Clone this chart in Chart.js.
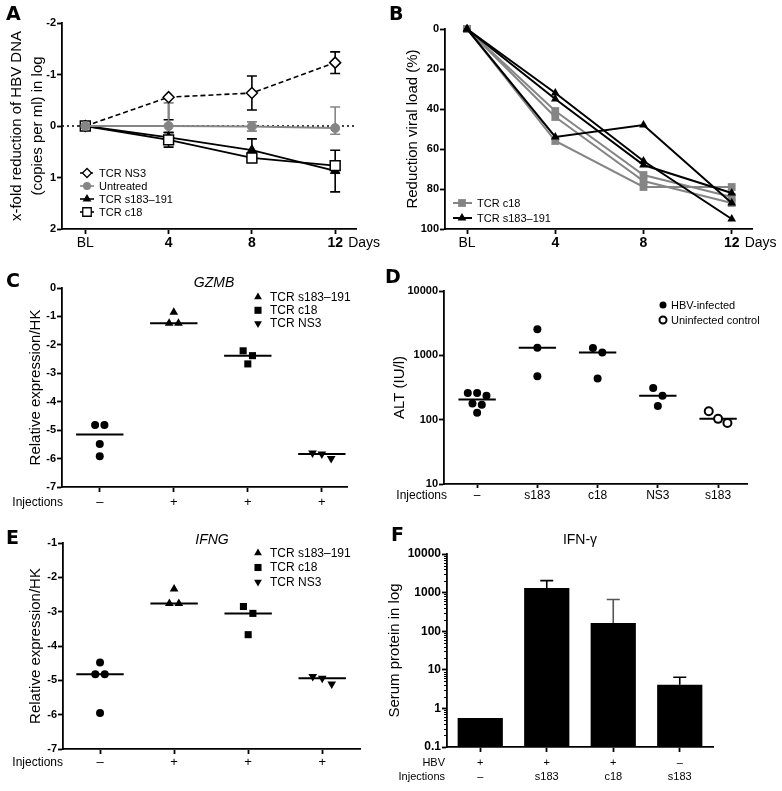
<!DOCTYPE html>
<html><head><meta charset="utf-8">
<script src="https://cdn.jsdelivr.net/npm/chart.js@4.4.1/dist/chart.umd.min.js"></script>
<style>
html,body{margin:0;padding:0;background:#fff;}
#wrap{position:relative;width:782px;height:791px;overflow:hidden;background:#fff;}
canvas{position:absolute;}
</style></head><body>
<div id="wrap">
<canvas id="cA" width="391" height="262" style="left:0;top:0"></canvas>
<canvas id="cC" width="391" height="262" style="left:0;top:262px"></canvas>
<canvas id="cE" width="391" height="267" style="left:0;top:524px"></canvas>
<canvas id="cB" width="401" height="262" style="left:381px;top:0"></canvas>
<canvas id="cD" width="401" height="262" style="left:381px;top:262px"></canvas>
<canvas id="cF" width="401" height="267" style="left:381px;top:524px"></canvas>
</div>
<script>
// ================= DATA =================
// Panel A – x-fold reduction of HBV DNA (log), reversed axis
const dayLabels = ['BL', '4', '8', '12'];
const aNS3 = [0, -0.56, -0.64, -1.23];
const aUntreated = [0, 0.0, 0.01, 0.04];
const aS183 = [0, 0.22, 0.47, 0.87];
const aC18 = [0, 0.27, 0.62, 0.77];
const aNS3ErrMinus = [0, 0, 0.33, 0.21];
const aNS3ErrPlus = [0, 0.44, 0.33, 0.21];
const aUntrErrMinus = [0, 0.45, 0.09, 0.41];
const aUntrErrPlus = [0, 0.30, 0.09, 0.12];
const aS183ErrMinus = [0, 0.10, 0.22, 0.40];
const aS183ErrPlus = [0, 0.10, 0.22, 0.41];
const aC18ErrMinus = [0, 0.14, 0.06, 0.05];
const aC18ErrPlus = [0, 0.14, 0.06, 0.05];

// Panel B – reduction viral load (%), individual mice
const bC18Mouse1 = [0, 41, 73, 84];
const bC18Mouse2 = [0, 44, 76, 87];
const bC18Mouse3 = [0, 56, 79, 79];
const bS183Mouse1 = [0, 32, 66, 95];
const bS183Mouse2 = [0, 35, 68, 82];
const bS183Mouse3 = [0, 54, 48, 87];

// Panel C – GZMB relative expression
const injLabels = ['–', '+', '+', '+'];
const gzmbNone = [-4.82, -4.82, -5.49, -5.92];
const gzmbS183 = [-0.85, -1.24, -1.24];
const gzmbC18 = [-2.21, -2.38, -2.67];
const gzmbNS3 = [-5.80, -5.84, -6.00];

// Panel D – ALT (IU/l)
const altInjLabels = ['–', 's183', 'c18', 'NS3', 's183'];
const altTicks = [10, 100, 1000, 10000];
const altNone = [260, 235, 260, 178, 170, 128];
const altS183 = [2550, 1310, 471];
const altC18 = [1295, 1110, 437];
const altNS3 = [310, 236, 163];
const altUninfS183 = [135, 103, 89];

// Panel E – IFNG relative expression
const ifngNone = [-4.48, -4.82, -4.82, -5.95];
const ifngS183 = [-2.34, -2.76, -2.76];
const ifngC18 = [-2.85, -3.05, -3.67];
const ifngNS3 = [-4.89, -4.94, -5.11];

// Panel F – IFN-γ serum protein
const ifnHBV = ['+', '+', '+', '–'];
const ifnInj = ['–', 's183', 'c18', 's183'];
const ifnTicks = [0.1, 1, 10, 100, 1000, 10000];
const ifnMean = [0.56, 1310, 163, 4.1];
const ifnErr = [0, 730, 497, 2.3];

// ================= HELPERS =================
const FONT = "'Liberation Sans', Arial, Helvetica, sans-serif";
const GRAY = '#858585';
Chart.defaults.font.family = FONT;
Chart.defaults.color = '#000';
Chart.defaults.animation = false;
Chart.defaults.plugins.legend.display = false;
Chart.defaults.plugins.tooltip.enabled = false;

const series = arr => arr.map((v, i) => ({x: i, y: v}));
function median(a) { const s = [...a].sort((p, q) => p - q); const n = s.length; return n % 2 ? s[(n - 1) / 2] : (s[n / 2 - 1] + s[n / 2]) / 2; }
function swarmOffsets(vals, thr, step) {
  const idx = vals.map((_, i) => i).sort((a, b) => vals[b] - vals[a]);
  const off = vals.map(() => 0);
  let cl = [];
  const flush = () => cl.forEach((j, n) => { off[j] = (n - (cl.length - 1) / 2) * step; });
  idx.forEach((j, n) => {
    if (n > 0 && Math.abs(vals[j] - vals[idx[n - 1]]) >= thr) { flush(); cl = []; }
    cl.push(j);
  });
  flush();
  return off;
}
function groupPoints(vals, g, thr, step, isLog) {
  const key = isLog ? vals.map(v => Math.log10(v)) : vals;
  const off = swarmOffsets(key, thr, step);
  return vals.map((v, k) => ({x: g + off[k], y: v}));
}
function medianSeg(vals, g, half) { const m = median(vals); return [{x: g - half, y: m}, {x: g + half, y: m}]; }

function marker(ctx, style, x, y, r, fill, stroke, lw) {
  ctx.save();
  ctx.beginPath();
  if (style === 'circle') ctx.arc(x, y, r, 0, Math.PI * 2);
  else if (style === 'rect') { const s = r * Math.SQRT1_2; ctx.rect(x - s, y - s, 2 * s, 2 * s); }
  else if (style === 'rectRot') { ctx.moveTo(x - r, y); ctx.lineTo(x, y - r); ctx.lineTo(x + r, y); ctx.lineTo(x, y + r); ctx.closePath(); }
  else if (style === 'triangle') { ctx.moveTo(x, y - r); ctx.lineTo(x + r * 0.866, y + r * 0.5); ctx.lineTo(x - r * 0.866, y + r * 0.5); ctx.closePath(); }
  else if (style === 'triangleDown') { ctx.moveTo(x, y + r); ctx.lineTo(x + r * 0.866, y - r * 0.5); ctx.lineTo(x - r * 0.866, y - r * 0.5); ctx.closePath(); }
  if (fill) { ctx.fillStyle = fill; ctx.fill(); }
  if (lw) { ctx.lineWidth = lw; ctx.strokeStyle = stroke; ctx.stroke(); }
  ctx.restore();
}
const fontStr = (t) => `${t.style || 'normal'} ${t.weight || 'normal'} ${t.size || 12}px ${t.family || FONT}`;

function drawErr(chart, o, when) {
  if (!o || !o.sets) return;
  const ctx = chart.ctx, ys = chart.scales.y;
  o.sets.forEach(s => {
    if ((s.when || 'before') !== when) return;
    const meta = chart.getDatasetMeta(s.dataset);
    const data = chart.data.datasets[s.dataset].data;
    ctx.save();
    ctx.lineWidth = s.width || 1.5;
    meta.data.forEach((el, i) => {
      const v = typeof data[i] === 'object' ? data[i].y : data[i];
      const lo = s.lo ? s.lo[i] : 0, hi = s.hi ? s.hi[i] : 0;
      ctx.strokeStyle = Array.isArray(s.color) ? s.color[i] : s.color;
      const x = el.x, half = s.cap / 2;
      ctx.beginPath();
      [[lo, -1], [hi, 1]].forEach(([e, sg]) => {
        if (!e) return;
        const y = ys.getPixelForValue(v + sg * e);
        ctx.moveTo(x, el.y); ctx.lineTo(x, y);
        ctx.moveTo(x - half, y); ctx.lineTo(x + half, y);
      });
      ctx.stroke();
    });
    ctx.restore();
  });
}
const errorBarPlugin = {
  id: 'errorBars',
  beforeDatasetsDraw(chart, a, o) { drawErr(chart, o, 'before'); },
  afterDatasetsDraw(chart, a, o) { drawErr(chart, o, 'after'); }
};

const decorPlugin = {
  id: 'decor',
  beforeDatasetsDraw(chart, a, o) {
    const ctx = chart.ctx, ca = chart.chartArea;
    (o.hlines || []).forEach(h => {
      const y = chart.scales.y.getPixelForValue(h.value);
      ctx.save(); ctx.setLineDash(h.dash || []); ctx.strokeStyle = h.color; ctx.lineWidth = h.width;
      ctx.beginPath(); ctx.moveTo(ca.left, y); ctx.lineTo(ca.right, y); ctx.stroke(); ctx.restore();
    });
  },
  afterDraw(chart, a, o) {
    const ctx = chart.ctx, ca = chart.chartArea;
    if (o.minorTicks) {
      const ys = chart.scales.y, m = o.minorTicks;
      ctx.save(); ctx.strokeStyle = '#000'; ctx.lineWidth = 1;
      for (let e = m.fromExp; e < m.toExp; e++) {
        for (let k = 2; k <= 9; k++) {
          const y = Math.round(ys.getPixelForValue(k * Math.pow(10, e))) + 0.5;
          ctx.beginPath(); ctx.moveTo(ca.left - m.len, y); ctx.lineTo(ca.left, y); ctx.stroke();
        }
      }
      ctx.restore();
    }
    (o.texts || []).forEach(t => {
      ctx.save();
      ctx.font = fontStr(t);
      ctx.fillStyle = t.color || '#000';
      ctx.textAlign = t.align || 'left';
      ctx.textBaseline = 'middle';
      const x = typeof t.x === 'function' ? t.x(chart) : t.x;
      ctx.fillText(t.text, x, t.y);
      ctx.restore();
    });
    if (o.legend) {
      const L = o.legend;
      L.items.forEach((it, i) => {
        const y = L.y + i * L.dy;
        if (it.line) {
          ctx.save(); ctx.strokeStyle = it.line.color; ctx.lineWidth = it.line.width; ctx.setLineDash(it.line.dash || []);
          ctx.beginPath(); ctx.moveTo(L.lineX1, y); ctx.lineTo(L.lineX2, y); ctx.stroke(); ctx.restore();
        }
        marker(ctx, it.style, L.x, y, it.r, it.fill, it.stroke, it.lw);
        ctx.save(); ctx.font = fontStr({size: L.size}); ctx.fillStyle = '#000'; ctx.textBaseline = 'middle';
        ctx.fillText(it.label, L.textX, y + 0.5); ctx.restore();
      });
    }
  }
};
Chart.register(errorBarPlugin, decorPlugin);

const AXC = '#000';
function gridOpts(len) { return {display: true, drawOnChartArea: false, drawTicks: true, tickLength: len, tickColor: AXC, tickWidth: 1.8, offset: false}; }
const borderOpts = {display: true, color: AXC, width: 1.8};
function catX(labels, min, max, h, font, pad, tl) {
  return {
    type: 'linear', min, max,
    afterBuildTicks: s => { s.ticks = labels.map((_, i) => ({value: i})); },
    afterFit: s => { s.height = h; },
    ticks: {callback: v => labels[v], font, padding: pad, autoSkip: false, maxRotation: 0, minRotation: 0},
    grid: gridOpts(tl), border: borderOpts
  };
}
function yTitle(text, lh) { return {display: true, text, font: {size: 15, lineHeight: lh || 1.2}, padding: 0, color: '#000'}; }
const letterFont = {size: 19, weight: 'bold', family: "'DejaVu Sans', 'Liberation Sans', Arial, sans-serif"};
const daysText = {text: 'Days', size: 14, x: c => c.scales.x.getPixelForValue(3) + 13};

// ================= PANEL A =================
new Chart(document.getElementById('cA'), {
  type: 'scatter',
  data: {datasets: [
    {label: 'TCR NS3', data: series(aNS3), showLine: true, borderColor: '#000', borderWidth: 1.6, borderDash: [5, 3],
     pointStyle: 'rectRot', pointRadius: 5.5, pointBackgroundColor: '#fff', pointBorderColor: '#000', pointBorderWidth: 1.5, order: 3, clip: false},
    {label: 'Untreated', data: series(aUntreated), showLine: true, borderColor: GRAY, borderWidth: 2,
     pointStyle: 'circle', pointRadius: 4.5, pointBackgroundColor: GRAY, pointBorderColor: GRAY, pointBorderWidth: 1, order: 0, clip: false},
    {label: 'TCR s183–191', data: series(aS183), showLine: true, borderColor: '#000', borderWidth: 1.8,
     pointStyle: 'triangle', pointRadius: 5.5, pointBackgroundColor: '#000', pointBorderColor: '#000', pointBorderWidth: 1, order: 2, clip: false},
    {label: 'TCR c18', data: series(aC18), showLine: true, borderColor: '#000', borderWidth: 1.8,
     pointStyle: 'rect', pointRadius: 7, pointBackgroundColor: '#fff', pointBorderColor: '#000', pointBorderWidth: 1.5, order: 1, clip: false}
  ]},
  options: {
    responsive: false,
    layout: {padding: {left: 6, top: 23, right: 35, bottom: 0}},
    scales: {
      x: catX(dayLabels, -0.28, 3.25, 33, ctx => ({size: 14, weight: ctx.index === 0 ? 'normal' : 'bold'}), 1, 5),
      y: {type: 'linear', reverse: true, min: -2, max: 2, afterFit: s => { s.width = 56; },
          ticks: {stepSize: 1, font: {size: 11, weight: 'bold'}, padding: 1},
          title: yTitle(['x-fold reduction of HBV DNA', '(copies per ml) in log'], 1.4),
          grid: gridOpts(5), border: borderOpts}
    },
    plugins: {
      errorBars: {sets: [
        {dataset: 0, lo: aNS3ErrMinus, hi: aNS3ErrPlus, color: '#000', cap: 10, width: 1.6},
        {dataset: 1, lo: aUntrErrMinus, hi: aUntrErrPlus, color: GRAY, cap: 10, width: 1.6},
        {dataset: 2, lo: aS183ErrMinus, hi: aS183ErrPlus, color: '#000', cap: 10, width: 1.6},
        {dataset: 3, lo: aC18ErrMinus, hi: aC18ErrPlus, color: '#000', cap: 10, width: 1.6}
      ]},
      decor: {
        hlines: [{value: 0, dash: [2, 3], color: '#000', width: 1.4}],
        texts: [Object.assign({text: 'A', x: 6, y: 15}, letterFont), Object.assign({y: 243.5}, daysText)],
        legend: {x: 87, y: 173, dy: 13, textX: 99, lineX1: 80, lineX2: 94, size: 11, items: [
          {label: 'TCR NS3', style: 'rectRot', r: 4.5, fill: '#fff', stroke: '#000', lw: 1.3, line: {color: '#000', width: 1.4, dash: [3, 2]}},
          {label: 'Untreated', style: 'circle', r: 4, fill: GRAY, stroke: GRAY, lw: 0, line: {color: GRAY, width: 1.6}},
          {label: 'TCR s183–191', style: 'triangle', r: 5, fill: '#000', stroke: '#000', lw: 0, line: {color: '#000', width: 1.6}},
          {label: 'TCR c18', style: 'rect', r: 6, fill: '#fff', stroke: '#000', lw: 1.3, line: {color: '#000', width: 1.6}}
        ]}
      }
    }
  }
});

// ================= PANEL B =================
function bSet(label, arr, isC18) {
  return {label, data: series(arr), showLine: true, borderColor: isC18 ? GRAY : '#000', borderWidth: 2,
    pointStyle: isC18 ? 'rect' : 'triangle', pointRadius: isC18 ? 5.5 : 5,
    pointBackgroundColor: isC18 ? GRAY : '#000', pointBorderColor: isC18 ? GRAY : '#000', pointBorderWidth: 0,
    order: isC18 ? 2 : 1, clip: false};
}
new Chart(document.getElementById('cB'), {
  type: 'scatter',
  data: {datasets: [
    bSet('TCR c18', bC18Mouse1, true), bSet('TCR c18', bC18Mouse2, true), bSet('TCR c18', bC18Mouse3, true),
    bSet('TCR s183–191', bS183Mouse1, false), bSet('TCR s183–191', bS183Mouse2, false), bSet('TCR s183–191', bS183Mouse3, false)
  ]},
  options: {
    responsive: false,
    layout: {padding: {left: 23, top: 29, right: 30, bottom: 0}},
    scales: {
      x: catX(dayLabels, -0.25, 3.23, 33, ctx => ({size: 14, weight: ctx.index === 0 ? 'normal' : 'bold'}), 1, 5),
      y: {type: 'linear', reverse: true, min: 0, max: 100, afterFit: s => { s.width = 41; },
          ticks: {stepSize: 20, font: {size: 11, weight: 'bold'}, padding: 1},
          title: yTitle('Reduction viral load (%)'),
          grid: gridOpts(5), border: borderOpts}
    },
    plugins: {
      decor: {
        texts: [Object.assign({text: 'B', x: 8, y: 15}, letterFont), Object.assign({y: 243.5}, daysText)],
        legend: {x: 81, y: 203, dy: 15, textX: 96, lineX1: 72, lineX2: 91, size: 11, items: [
          {label: 'TCR c18', style: 'rect', r: 5.5, fill: GRAY, stroke: GRAY, lw: 0, line: {color: GRAY, width: 2}},
          {label: 'TCR s183–191', style: 'triangle', r: 5, fill: '#000', stroke: '#000', lw: 0, line: {color: '#000', width: 2}}
        ]}
      }
    }
  }
});

// ================= PANELS C & E (scatter dot plots) =================
function dotPlot(id, groups, labels, opt) {
  const styles = ['circle', 'triangle', 'rect', 'triangleDown'];
  const radii = [4, 5, 5, 5];
  const ds = [];
  groups.forEach((vals, g) => {
    ds.push({data: groupPoints(vals, g, opt.thr, opt.step, false), showLine: false, pointStyle: styles[g] === 'triangleDown' ? 'triangle' : styles[g],
      pointRotation: styles[g] === 'triangleDown' ? 180 : 0, pointRadius: radii[g], pointBackgroundColor: '#000', pointBorderColor: '#000', pointBorderWidth: 0, clip: false});
  });
  groups.forEach((vals, g) => {
    ds.push({data: medianSeg(vals, g, 0.32), showLine: true, borderColor: '#000', borderWidth: 2, pointRadius: 0, clip: false});
  });
  new Chart(document.getElementById(id), {
    type: 'scatter',
    data: {datasets: ds},
    options: {
      responsive: false,
      layout: {padding: {left: 27, top: opt.top, right: opt.right, bottom: 0}},
      scales: {
        x: catX(labels, opt.xmin, opt.xmax, opt.hx, {size: 13}, opt.xpad, 5),
        y: {type: 'linear', min: opt.ymin, max: opt.ymax, afterFit: s => { s.width = opt.wy; },
            ticks: {stepSize: 1, font: {size: 11, weight: 'bold'}, padding: 1},
            title: yTitle('Relative expression/HK'),
            grid: gridOpts(5), border: borderOpts}
      },
      plugins: {
        decor: {
          texts: [Object.assign({text: opt.letter, x: 6, y: opt.letterY}, letterFont),
                  {text: opt.title, x: opt.titleX, y: opt.titleY, size: 14, style: 'italic', align: 'center'},
                  {text: 'Injections', x: 63, y: opt.injY, size: 12, align: 'right'}],
          legend: {x: 258, y: opt.legY, dy: opt.legDy, textX: 270, lineX1: 0, lineX2: 0, size: 12, items: [
            {label: 'TCR s183–191', style: 'triangle', r: 4.5, fill: '#000', lw: 0},
            {label: 'TCR c18', style: 'rect', r: 5, fill: '#000', lw: 0},
            {label: 'TCR NS3', style: 'triangleDown', r: 4.5, fill: '#000', lw: 0}
          ]}
        }
      }
    }
  });
}
dotPlot('cC', [gzmbNone, gzmbS183, gzmbC18, gzmbNS3], injLabels, {
  thr: 0.28, step: 0.126, top: 26, right: 44, xmin: -0.51, xmax: 3.34, hx: 37, xpad: 3, wy: 35, ymin: -7, ymax: 0,
  letter: 'C', letterY: 20, title: 'GZMB', titleX: 214, titleY: 21, injY: 241, legY: 35, legDy: 13.3
});
dotPlot('cE', [ifngNone, ifngS183, ifngC18, ifngNS3], injLabels, {
  thr: 0.23, step: 0.128, top: 19, right: 31, xmin: -0.5, xmax: 3.51, hx: 42, xpad: 1, wy: 36, ymin: -7, ymax: -1,
  letter: 'E', letterY: 15, title: 'IFNG', titleX: 212, titleY: 16, injY: 239, legY: 29, legDy: 14.5
});

// ================= PANEL D =================
(function () {
  const groups = [altNone, altS183, altC18, altNS3, altUninfS183];
  const ds = groups.map((vals, g) => ({
    data: groupPoints(vals, g, 0.119, 0.155, true), showLine: false, pointStyle: 'circle', pointRadius: 4,
    pointBackgroundColor: g === 4 ? '#fff' : '#000', pointBorderColor: '#000', pointBorderWidth: g === 4 ? 2 : 0, clip: false
  }));
  groups.forEach((vals, g) => ds.push({data: medianSeg(vals, g, 0.31), showLine: true, borderColor: '#000', borderWidth: 2, pointRadius: 0, clip: false}));
  new Chart(document.getElementById('cD'), {
    type: 'scatter',
    data: {datasets: ds},
    options: {
      responsive: false,
      layout: {padding: {left: 10, top: 29, right: 35, bottom: 0}},
      scales: {
        x: catX(altInjLabels, -0.55, 4.48, 40, {size: 12, lineHeight: 1}, 2, 4),
        y: {type: 'logarithmic', min: 10, max: 10000, afterFit: s => { s.width = 53; },
            afterBuildTicks: s => { s.ticks = altTicks.map(v => ({value: v})); },
            ticks: {callback: v => String(v), font: {size: 11, weight: 'bold'}, padding: 1, autoSkip: false},
            title: yTitle('ALT (IU/l)'),
            grid: gridOpts(5), border: borderOpts}
      },
      plugins: {
        decor: {
          texts: [Object.assign({text: 'D', x: 4, y: 16}, letterFont),
                  {text: 'Injections', x: 66, y: 234, size: 12, align: 'right'}],
          legend: {x: 282, y: 43, dy: 15, textX: 290, lineX1: 0, lineX2: 0, size: 11, items: [
            {label: 'HBV-infected', style: 'circle', r: 3.5, fill: '#000', lw: 0},
            {label: 'Uninfected control', style: 'circle', r: 3.5, fill: '#fff', stroke: '#000', lw: 2}
          ]}
        }
      }
    }
  });
})();

// ================= PANEL F =================
new Chart(document.getElementById('cF'), {
  type: 'bar',
  data: {
    labels: ifnHBV.map((h, i) => [h, ifnInj[i]]),
    datasets: [{data: ifnMean, backgroundColor: '#000', borderWidth: 0, barPercentage: 0.68, categoryPercentage: 1}]
  },
  options: {
    responsive: false,
    layout: {padding: {left: 5, top: 30, right: 69, bottom: 0}},
    scales: {
      x: {type: 'category', afterFit: s => { s.height = 44; },
          ticks: {font: {size: 11, lineHeight: 1.2727}, padding: 4, maxRotation: 0, autoSkip: false},
          grid: gridOpts(5), border: borderOpts},
      y: {type: 'logarithmic', min: 0.1, max: 10000, afterFit: s => { s.width = 61; },
          afterBuildTicks: s => { s.ticks = ifnTicks.map(v => ({value: v})); },
          ticks: {callback: v => String(v), font: {size: 12, weight: 'bold'}, padding: 1, autoSkip: false},
          title: yTitle('Serum protein in log'),
          grid: gridOpts(5), border: borderOpts}
    },
    plugins: {
      errorBars: {sets: [{dataset: 0, hi: ifnErr, color: ['#000', '#000', '#555', '#000'], cap: 13, width: 1.6, when: 'after'}]},
      decor: {
        minorTicks: {fromExp: -1, toExp: 4, len: 3},
        texts: [Object.assign({text: 'F', x: 10, y: 12}, letterFont),
                {text: 'IFN-γ', x: 199, y: 16, size: 14, align: 'center'},
                {text: 'HBV', x: 64, y: 239, size: 11, align: 'right'},
                {text: 'Injections', x: 64, y: 253, size: 11, align: 'right'}]
      }
    }
  }
});
</script>
</body></html>
